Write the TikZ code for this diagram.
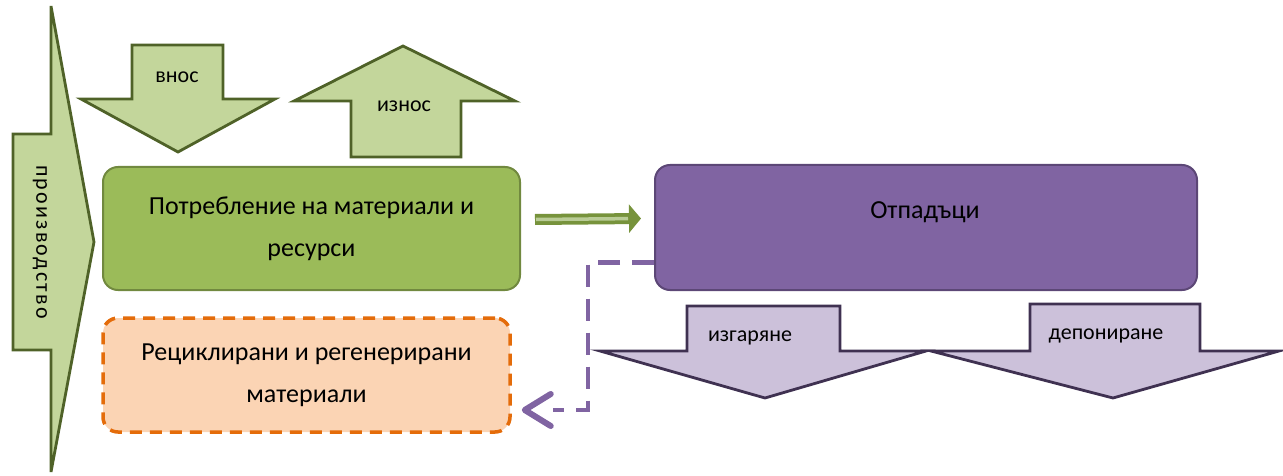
\documentclass[tikz,border=0pt]{standalone}
\usepackage{fontspec}
\setmainfont{Carlito}
\usetikzlibrary{arrows.meta}
\definecolor{gbox}{HTML}{9BBB59}
\definecolor{gboxline}{HTML}{71893F}
\definecolor{garrow}{HTML}{C3D69B}
\definecolor{garrowline}{HTML}{4F6228}
\definecolor{gshaft}{HTML}{77933C}
\definecolor{gshaftin}{HTML}{B9CC96}
\definecolor{pbox}{HTML}{8064A2}
\definecolor{pboxline}{HTML}{5C4776}
\definecolor{parrow}{HTML}{CCC1DA}
\definecolor{parrowline}{HTML}{3F3151}
\definecolor{obox}{HTML}{FBD4B4}
\definecolor{oline}{HTML}{E46C0A}
\tikzset{
  boxtext/.style={font=\fontsize{26}{42}\selectfont, align=center, text=black},
  greenbox/.style={draw=gboxline, fill=gbox, line width=2pt, rounded corners=15pt, boxtext},
  purplebox/.style={draw=pboxline, fill=pbox, line width=2pt, rounded corners=15pt, boxtext},
  orangebox/.style={draw=oline, fill=obox, line width=3.5pt, dash pattern=on 12pt off 8pt, rounded corners=15pt, boxtext},
  garrowshape/.style={draw=garrowline, fill=garrow, line width=2.8pt, line join=miter},
  parrowshape/.style={draw=parrowline, fill=parrow, line width=2.8pt, line join=miter},
  smalllabel/.style={font=\fontsize{22}{24}\selectfont, text=black, inner sep=0pt},
}
\begin{document}
\begin{tikzpicture}[x=1pt,y=-1pt]
\useasboundingbox (0,0) rectangle (1283,476);
% production arrow
\draw[garrowshape] (13,134) -- (51,134) -- (51,6) -- (94,242) -- (51,472) -- (51,350) -- (13,350) -- cycle;
\node[smalllabel, rotate=-90] (prod) at (40,242) {\addfontfeature{LetterSpace=10}производство};
% vnos arrow (down)
\draw[garrowshape] (132,45) -- (223,45) -- (223,99) -- (275,99) -- (178,152) -- (81,99) -- (132,99) -- cycle;
\node[smalllabel] (vnos) at (177,77) {внос};
% iznos arrow (up)
\draw[garrowshape] (351,157) -- (461,157) -- (461,101) -- (515,101) -- (403,46) -- (294,101) -- (351,101) -- cycle;
\node[smalllabel] (iznos) at (404,106) {износ};
% boxes
\node[greenbox, minimum width=417pt, minimum height=123pt] (cons) at (311.5,228.5) {Потребление на материали и\\ресурси};
\node[orangebox, minimum width=407pt, minimum height=114pt] (rec) at (306.5,375) {Рециклирани и регенерирани\\материали};
\node[purplebox, minimum width=542pt, minimum height=125pt] (waste) at (926,227.5) {};
\node[boxtext] (wastelbl) at (925,212) {Отпадъци};
% green double arrow
\draw[draw=gshaft, line width=11pt, -{Triangle[length=12pt,width=28pt]}] ([xshift=14pt,yshift=9pt]cons.east) -- ([xshift=-13pt,yshift=9pt]waste.west);
\draw[draw=gshaftin, line width=3.5pt, shorten >=13pt] ([xshift=15pt,yshift=9pt]cons.east) -- ([xshift=-13pt,yshift=9pt]waste.west);
% dashed purple connector
\coordinate (bend) at (588,410);
\coordinate (tip) at ([xshift=13pt,yshift=-35pt]rec.east);
\draw[draw=pbox, line width=4.5pt, dash pattern=on 22pt off 12pt, shorten >=28pt] ([yshift=-35pt]waste.west) -| (bend) -- (tip);
\draw[draw=pbox, line width=6pt, line join=round, line cap=round] ([shift={(26,-16)}]tip) -- (tip) -- ([shift={(26,16)}]tip);
% purple down arrows
\draw[parrowshape] (687,306) -- (840,306) -- (840,351) -- (926,351) -- (765,398) -- (600,351) -- (687,351) -- cycle;
\node[smalllabel] (izg) at (750,338) {изгаряне};
\draw[parrowshape] (1030,304) -- (1200,304) -- (1200,351) -- (1279,351) -- (1113,398) -- (931,351) -- (1030,351) -- cycle;
\node[smalllabel] (dep) at (1106,336) {депониране};
\end{tikzpicture}
\end{document}
